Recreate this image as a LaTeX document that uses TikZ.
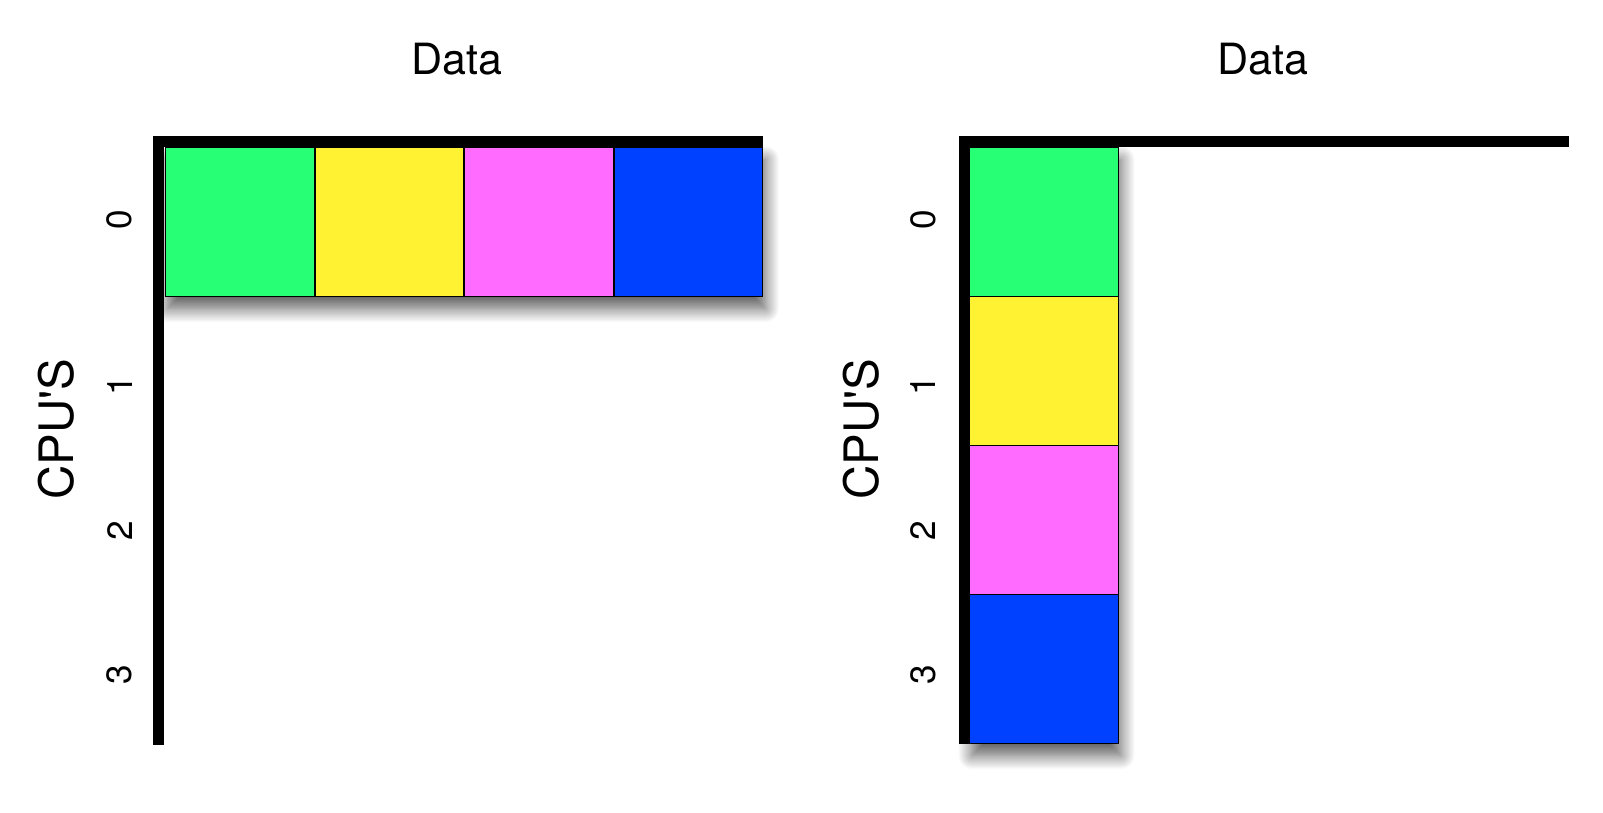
\documentclass[tikz,border=0pt]{standalone}
\usepackage{fontspec}
\newfontfamily\plotfont{TeX Gyre Heros}
\usetikzlibrary{positioning,shadows.blur}
\definecolor{cgreen}{HTML}{27FF74}
\definecolor{cyellow}{HTML}{FFF232}
\definecolor{cpink}{HTML}{FF6BFF}
\definecolor{cblue}{HTML}{0040FF}
\tikzset{
  cell/.style={
    draw,
    line width=0.8pt,
    inner sep=0pt,
    anchor=north west,
    minimum width=2.98cm,
    minimum height=2.98cm
  },
  shade/.style={
    fill=white,
    inner sep=0pt,
    anchor=north west,
    blur shadow={shadow xshift=1.5pt, shadow yshift=-7pt, shadow blur radius=8pt, shadow blur steps=20, shadow opacity=65}
  },
  axisbar/.style={
    line width=0.22cm,
    line join=miter
  },
}
\tikzset{
  title/.style={font=\plotfont\fontsize{24.5}{29}\selectfont},
  cpu/.style={font=\plotfont\fontsize{20}{24}\selectfont, rotate=90},
  cpuname/.style={font=\plotfont\fontsize{27}{32}\selectfont, rotate=90},
}
\begin{document}
\begin{tikzpicture}[x=0.02cm,y=-0.02cm]
  \useasboundingbox (0,0) rectangle (1603,812);
  % left
  \node[shade, minimum width=11.96cm, minimum height=2.98cm] (lrow) at (164.6,147) {};
  \coordinate (lb) at (158.5,745);
  \coordinate (lc) at (158.5,141);
  \coordinate (le) at (763,141);
  \draw[axisbar] (lb) -- (lc) -- (le);
  \foreach \c [count=\i from 0] in {cgreen,cyellow,cpink,cblue}{
    \node[cell, fill=\c] (l\i) at ({164.6+149.5*\i},147) {};
  }
  \node[title] (ldata) at (457,59) {Data};
  \node[cpuname] (lcpu) at (56,429) {CPU'S};
  \foreach \n/\y in {0/220,1/386,2/531,3/675}{
    \node[cpu] (ln\n) at (119.6,\y) {\n};
  }
  % right
  \node[shade, minimum width=2.98cm, minimum height=11.92cm] (rcol) at (969,147) {};
  \coordinate (rb) at (964,744);
  \coordinate (rc) at (964,141);
  \coordinate (re) at (1569,141);
  \draw[axisbar] (rb) -- (rc) -- (re);
  \foreach \c [count=\i from 0] in {cgreen,cyellow,cpink,cblue}{
    \node[cell, fill=\c] (r\i) at (969,{147+149*\i}) {};
  }
  \node[title] (rdata) at (1262.5,59) {Data};
  \node[cpuname] (rcpu) at (861,429) {CPU'S};
  \foreach \n/\y in {0/220,1/386,2/531,3/675}{
    \node[cpu] (rn\n) at (923,\y) {\n};
  }
\end{tikzpicture}
\end{document}
